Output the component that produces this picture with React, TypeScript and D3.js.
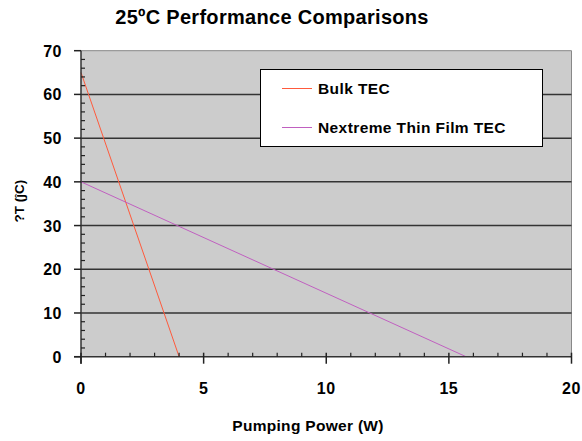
import * as d3 from "d3";

const xTicks = [0, 5, 10, 15, 20];
const yTicks = [0, 10, 20, 30, 40, 50, 60, 70];

const bulkX = [0, 4];
const bulkY = [65, 0];
const thinX = [0, 15.7];
const thinY = [40, 0];

const seriesNames = ["Bulk TEC", "Nextreme Thin Film TEC"];
const seriesColors = ["#ff5a3c", "#c060c0"];

const width = 582;
const height = 441;
const left = 81;
const right = 571.5;
const top = 50.7;
const bottom = 356.7;
const font = "Arial, 'Liberation Sans', sans-serif";

const App = () => {
  const x = d3.scaleLinear().domain([0, 20]).range([left, right]);
  const y = d3.scaleLinear().domain([0, 70]).range([bottom, top]);

  const line = d3
    .line<[number, number]>()
    .x((d) => x(d[0]))
    .y((d) => y(d[1]));

  const series = [
    bulkX.map((v, i) => [v, bulkY[i]] as [number, number]),
    thinX.map((v, i) => [v, thinY[i]] as [number, number]),
  ];

  const xMinor = d3.range(0, 21, 1).filter((v) => v % 5 !== 0);
  const yMinor = d3.range(0, 71, 2).filter((v) => v % 10 !== 0);

  return (
    <svg
      width={width}
      height={height}
      style={{ position: "absolute", left: 0, top: 0, background: "#fff" }}
      fontFamily={font}
    >
      <text x={272} y={24} textAnchor="middle" fontSize={20} fontWeight="bold" letterSpacing={0.3}>
        25ºC Performance Comparisons
      </text>

      {/* plot area */}
      <rect x={left} y={top} width={right - left} height={bottom - top} fill="#cccccc" />
      <path
        d={`M${left},${top}H${right}V${bottom}`}
        fill="none"
        stroke="#888"
        strokeWidth={1}
      />

      {/* gridlines */}
      {yTicks.slice(1, -1).map((t) => (
        <line key={t} x1={left} x2={right} y1={y(t)} y2={y(t)} stroke="#333" strokeWidth={1.5} />
      ))}

      {/* series */}
      {series.map((s, i) => (
        <path key={i} d={line(s) ?? ""} fill="none" stroke={seriesColors[i]} strokeWidth={1} />
      ))}

      {/* axes */}
      <line x1={left} x2={left} y1={top} y2={bottom + 7} stroke="#333" strokeWidth={1.5} />
      <line x1={left - 7} x2={right} y1={bottom} y2={bottom} stroke="#333" strokeWidth={1.5} />
      {yTicks.map((t) => (
        <line key={t} x1={left - 7} x2={left} y1={y(t)} y2={y(t)} stroke="#222" strokeWidth={1.5} />
      ))}
      {yMinor.map((t) => (
        <line key={t} x1={left} x2={left + 4} y1={y(t)} y2={y(t)} stroke="#222" strokeWidth={1.2} />
      ))}
      {xTicks.map((t) => (
        <line key={t} x1={x(t)} x2={x(t)} y1={bottom - 4} y2={bottom + 7} stroke="#222" strokeWidth={1.5} />
      ))}
      {xMinor.map((t) => (
        <line key={t} x1={x(t)} x2={x(t)} y1={bottom - 4} y2={bottom} stroke="#222" strokeWidth={1.2} />
      ))}

      {/* tick labels */}
      {yTicks.map((t) => (
        <text key={t} x={62} y={y(t) + 6} textAnchor="end" fontSize={16} fontWeight="bold" letterSpacing={0.5}>
          {t}
        </text>
      ))}
      {xTicks.map((t) => (
        <text key={t} x={x(t)} y={394} textAnchor="middle" fontSize={16} fontWeight="bold" letterSpacing={0.5}>
          {t}
        </text>
      ))}

      {/* axis titles */}
      <text x={308} y={431} textAnchor="middle" fontSize={15.5} fontWeight="bold" letterSpacing={0.3}>
        Pumping Power (W)
      </text>
      <text
        transform={`translate(24, 201) rotate(-90)`}
        textAnchor="middle"
        fontSize={13.5}
        fontWeight="bold"
      >
        ?T (ĵC)
      </text>

      {/* legend */}
      <rect x={260.5} y={69.5} width={282} height={77} fill="#fff" stroke="#000" strokeWidth={1} />
      {seriesNames.map((n, i) => (
        <g key={n}>
          <line
            x1={282}
            x2={312}
            y1={88.5 + i * 39}
            y2={88.5 + i * 39}
            stroke={seriesColors[i]}
            strokeWidth={1}
          />
          <text x={318} y={93.5 + i * 39} fontSize={15.5} fontWeight="bold" letterSpacing={0.4}>
            {n}
          </text>
        </g>
      ))}
    </svg>
  );
};

export default App;
